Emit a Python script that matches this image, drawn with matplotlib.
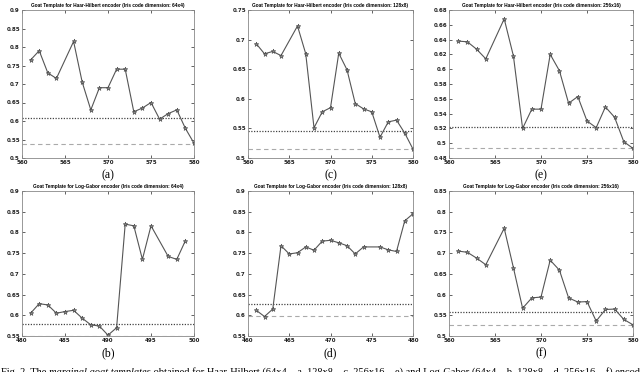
import matplotlib
matplotlib.use("Agg")
import matplotlib.pyplot as plt
import numpy as np
from matplotlib.ticker import FuncFormatter

# goat template curves
hh64_x = [561, 562, 563, 564, 566, 567, 568, 569, 570, 571, 572, 573, 574, 575, 576, 577, 578, 579, 580]
hh64_y = [0.765, 0.79, 0.73, 0.715, 0.815, 0.705, 0.63, 0.69, 0.69, 0.74, 0.74, 0.625, 0.635, 0.65,
          0.605, 0.62, 0.63, 0.58, 0.54]
hh128_x = hh64_x
hh128_y = [0.693, 0.676, 0.68, 0.673, 0.723, 0.676, 0.551, 0.578, 0.585, 0.677, 0.649, 0.592, 0.583,
           0.578, 0.535, 0.561, 0.564, 0.542, 0.515]
hh256_x = hh64_x
hh256_y = [0.638, 0.637, 0.627, 0.614, 0.668, 0.618, 0.520, 0.546, 0.546, 0.620, 0.598, 0.554, 0.563,
           0.530, 0.521, 0.549, 0.535, 0.502, 0.493]
lg64_x = [481, 482, 483, 484, 485, 486, 487, 488, 489, 490, 491, 492, 493, 494, 495, 497, 498, 499]
lg64_y = [0.605, 0.628, 0.625, 0.605, 0.609, 0.612, 0.593, 0.577, 0.574, 0.552, 0.57, 0.82, 0.816,
          0.735, 0.816, 0.742, 0.735, 0.78]
lg128_x = [461, 462, 463, 464, 465, 466, 467, 468, 469, 470, 471, 472, 473, 474, 476, 477, 478, 479, 480]
lg128_y = [0.612, 0.597, 0.615, 0.768, 0.748, 0.751, 0.765, 0.757, 0.779, 0.781, 0.775, 0.768, 0.748,
           0.765, 0.765, 0.758, 0.754, 0.828, 0.845]
lg256_x = hh64_x
lg256_y = [0.705, 0.702, 0.688, 0.672, 0.76, 0.665, 0.567, 0.592, 0.594, 0.683, 0.659, 0.592, 0.582,
           0.583, 0.536, 0.564, 0.565, 0.54, 0.527]

# reference levels (dotted, dashed) per panel
dotted = [0.608, 0.545, 0.522, 0.58, 0.627, 0.557]
dashed = [0.539, 0.516, 0.493, 0.55, 0.598, 0.527]

titles = [
    "Goat Template for Haar-Hilbert encoder (Iris code dimension: 64x4)",
    "Goat Template for Haar-Hilbert encoder (Iris code dimension: 128x8)",
    "Goat Template for Haar-Hilbert encoder (Iris code dimension: 256x16)",
    "Goat Template for Log-Gabor encoder (Iris code dimension: 64x4)",
    "Goat Template for Log-Gabor encoder (Iris code dimension: 128x8)",
    "Goat Template for Log-Gabor encoder (Iris code dimension: 256x16)",
]
letters = ["(a)", "(c)", "(e)", "(b)", "(d)", "(f)"]
xlims = [(560, 580), (560, 580), (560, 580), (480, 500), (460, 480), (560, 580)]
ylims = [(0.5, 0.9), (0.5, 0.75), (0.48, 0.68), (0.55, 0.9), (0.55, 0.9), (0.5, 0.85)]
ysteps = [0.05, 0.05, 0.02, 0.05, 0.05, 0.05]
series = [(hh64_x, hh64_y), (hh128_x, hh128_y), (hh256_x, hh256_y),
          (lg64_x, lg64_y), (lg128_x, lg128_y), (lg256_x, lg256_y)]

caption = [
    ("Fig. 2. The ", "normal"),
    ("marginal goat templates", "italic"),
    (" obtained for Haar-Hilbert (64x4 \u2013 a, 128x8 \u2013 c, 256x16 \u2013 e) and "
     "Log-Gabor (64x4 \u2013 b, 128x8 \u2013 d, 256x16 \u2013 f) encoders", "normal"),
]

W, H = 640, 372
fig = plt.figure(figsize=(W / 100, H / 100), dpi=100)

# axes boxes in pixels: left, right, top, bottom
cols = [(22, 194), (248, 413), (449, 633)]
rows = [(10, 158), (191, 336)]

for i in range(6):
    r, c = divmod(i, 3)
    l, rt = cols[c]
    t, b = rows[r]
    ax = fig.add_axes([l / W, 1 - b / H, (rt - l) / W, (b - t) / H])
    x, y = series[i]
    ax.axhline(dotted[i], color="#444444", ls=(0, (1, 1.2)), lw=0.9)
    ax.axhline(dashed[i], color="#aaaaaa", ls=(0, (4, 3)), lw=0.8)
    ax.plot(x, y, color="#555555", lw=0.8, marker="*", ms=3.5,
            mfc="#888888", mec="#444444", mew=0.4)
    ax.set_xlim(*xlims[i])
    ax.set_ylim(*ylims[i])
    ax.set_xticks(np.arange(xlims[i][0], xlims[i][1] + 1, 5))
    y0, y1 = ylims[i]
    ax.set_yticks(np.round(np.arange(y0, y1 + 1e-9, ysteps[i]), 3))
    ax.yaxis.set_major_formatter(FuncFormatter(lambda v, p: f"{v:g}"))
    ax.tick_params(direction="in", length=2, width=0.5, top=True, right=True,
                   labelsize=4, pad=1.5, colors="#222222")
    for lab in ax.get_xticklabels() + ax.get_yticklabels():
        lab.set_fontweight("bold")
    for s in ax.spines.values():
        s.set_color("#888888")
        s.set_linewidth(0.6)
    ax.set_title(titles[i], fontsize=3.4, fontweight="bold", pad=2.5,
                 family="Liberation Sans")
    fig.text((l + rt) / 2 / W, 1 - (b + 17) / H, letters[i], ha="center", va="center",
             fontsize=8.5, family="Liberation Serif")

# caption, clipped at the bottom edge as in the reference
fig.canvas.draw()
rend = fig.canvas.get_renderer()
xpos = 1.0
for txt, style in caption:
    t = fig.text(xpos / W, 1 - 374.5 / H, txt, fontsize=7.45, family="Liberation Serif",
                 style=style, ha="left", va="baseline")
    xpos += t.get_window_extent(rend).width

fig.savefig("out.png", dpi=100)
